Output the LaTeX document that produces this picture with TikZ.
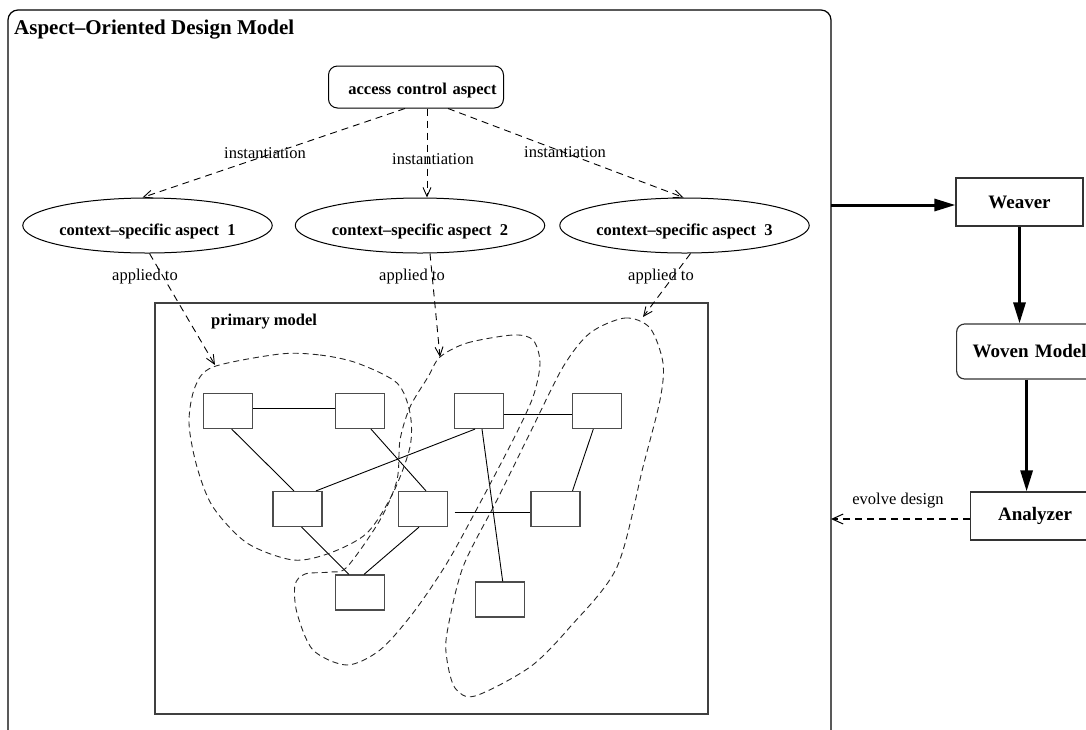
\documentclass[tikz,border=0pt]{standalone}
\usepackage{fontspec}
\setmainfont{Liberation Serif}
\usetikzlibrary{arrows.meta,shapes.geometric,calc}

\tikzset{
  lbl/.style={font=\fontsize{16.5pt}{19pt}\selectfont, inner sep=0pt},
  blbl/.style={font=\fontsize{16.5pt}{19pt}\selectfont\bfseries, inner sep=0pt},
  title/.style={font=\fontsize{21pt}{24pt}\selectfont\bfseries, inner sep=0pt, anchor=west},
  aspect/.style={draw, ellipse, line width=1pt, minimum width=238pt, minimum height=55pt,
    inner sep=0pt, text height=19pt, text depth=0pt, font=\fontsize{16.5pt}{19pt}\selectfont\bfseries},
  elem/.style={draw=black!70, line width=1.2pt, minimum width=49pt, minimum height=35pt, inner sep=0pt},
  tool/.style={draw=black!80, line width=1.2pt, inner sep=0pt, font=\fontsize{19pt}{22pt}\selectfont\bfseries},
  link/.style={line width=0.9pt},
  dep/.style={dashed, dash pattern=on 7pt off 5pt, line width=0.9pt,
    -{Straight Barb[length=9pt,width=8pt,line width=0.9pt]}},
  region/.style={dash pattern=on 6pt off 4pt, line width=0.9pt, black!85},
  flow/.style={line width=3pt, -{Triangle[length=21pt,width=12pt]}},
}

\begin{document}
\begin{tikzpicture}[x=1pt,y=-1pt]
\path[use as bounding box] (0,0) rectangle (1086,729);
\begin{scope}
\clip (0,0) rectangle (1086,729);

% design model frame
\draw[line width=1.2pt, rounded corners=10pt] (8,10) rectangle (831,780);
\node[title] (ttl) at (14,30) {Aspect–Oriented Design Model};

% access control aspect and its instantiations
\node[draw, line width=1pt, rounded corners=9pt, minimum width=175pt, minimum height=42pt,
      inner xsep=7pt, text width=161pt, align=right, text height=14.6pt, text depth=0pt, blbl]
      (acc) at (416,87) {access control aspect};

\node[aspect] (e1) at (147.5,225.5) {context–specific aspect~~1};
\node[aspect] (e2) at (420,225.5) {context–specific aspect~~2};
\node[aspect] (e3) at (684.5,225.5) {context–specific aspect~~3};

\draw[dep] ([xshift=-11pt]acc.south) -- ([xshift=-5pt]e1.north);
\draw[dep] ([xshift=11pt]acc.south) -- ([xshift=7pt]e2.north);
\draw[dep] ([xshift=32pt]acc.south) -- ([xshift=-1pt]e3.north);
\node[lbl] (i1) at (265,153) {instantiation};
\node[lbl] (i2) at (433,159) {instantiation};
\node[lbl] (i3) at (565,152) {instantiation};

% primary model
\draw[draw=black!75, line width=1.2pt] (155,303) rectangle (708,714);
\node[blbl, anchor=west] (pm) at (211,322) {primary model};

\node[elem] (A) at (228,411) {};
\node[elem] (B) at (360,411) {};
\node[elem] (C) at (479,411) {};
\node[elem] (D) at (597,411) {};
\node[elem] (E) at (297.5,509) {};
\node[elem] (F) at (423,509) {};
\node[elem] (G) at (555.5,509) {};
\node[elem] (H) at (360,592.5) {};
\node[elem] (I) at (500,599.5) {};

\draw[link] ([yshift=3pt]A.east) -- ([yshift=3pt]B.west);
\draw[link] ([yshift=-3.7pt]C.east) -- ([yshift=-3.7pt]D.west);
\draw[link] ([xshift=6.5pt,yshift=-3.3pt]F.east) -- ([yshift=-3.3pt]G.west);
\draw[link] ([xshift=3.7pt]A.south) -- ([xshift=-3.5pt]E.north);
\draw[link] ([xshift=11pt]B.south) -- ([xshift=3pt]F.north);
\draw[link] ([xshift=-4pt]C.south) -- ([xshift=18.5pt]E.north);
\draw[link] ([xshift=3pt]C.south) -- ([xshift=2.7pt]I.north);
\draw[link] ([xshift=-3.7pt]D.south) -- ([xshift=17pt]G.north);
\draw[link] ([xshift=4pt]E.south) -- ([xshift=-11pt]H.north);
\draw[link] ([xshift=-4pt]F.south) -- ([xshift=4pt]H.north);

% join-point regions
\draw[region] plot[smooth cycle] coordinates {(280,354) (320,355) (357,363) (397,383) (410,413)
  (410,447) (393,493) (367,533) (330,553) (293,560) (247,543) (213,507) (197,467) (189,423)
  (195,387) (213,367)};
\draw[region] plot[smooth cycle] coordinates {(440,357) (467,343) (513,335) (533,340) (540,363)
  (533,397) (513,440) (480,503) (447,563) (413,613) (380,650) (347,665) (313,650) (297,613)
  (295,585) (305,574) (330,572) (347,567) (380,520) (397,480) (400,440) (410,407) (428,377)};
\draw[region] plot[smooth cycle] coordinates {(590,333) (625,318) (650,328) (663,363) (660,400)
  (643,467) (617,567) (570,627) (530,667) (475,696) (455,688) (447,660) (447,633) (463,567)
  (497,500) (530,433) (563,367)};

\coordinate (r1) at (215,365);
\coordinate (r2) at (440,357);
\coordinate (r3) at (643,317);
\draw[dep] ([xshift=2pt]e1.south) -- (r1);
\draw[dep] ([xshift=10pt]e2.south) -- (r2);
\draw[dep] ([xshift=6pt]e3.south) -- (r3);
\node[lbl] (a1) at (145,277) {applied to};
\node[lbl] (a2) at (412,277) {applied to};
\node[lbl] (a3) at (661,277) {applied to};

% weaving tool chain
\coordinate (out) at (831,205);
\node[tool, minimum width=127pt, minimum height=48pt] (wv) at (1019.5,202) {Weaver};
\node[tool, rounded corners=8pt, minimum width=150pt, minimum height=55pt, anchor=west,
      inner xsep=16pt, text width=118pt, align=left] (wm) at (956,351.5) {Woven Model};
\node[tool, minimum width=140pt, minimum height=48pt, anchor=west] (an) at (970,516) {\hspace*{-11pt}Analyzer};

\draw[flow] (out) -- (wv.west |- out);
\draw[flow] (wv.south) -- (wv.south |- wm.north);
\draw[flow] ([xshift=-5pt]wm.south) -- ([xshift=-5pt]wm.south |- an.north);

\coordinate (back) at (831,519);
\draw[dep, -{Straight Barb[length=11pt,width=10pt,line width=1pt]}, line width=1.1pt]
  (an.west |- back) -- (back);
\node[lbl] (ev) at (898,501) {evolve design};
\end{scope}
\end{tikzpicture}
\end{document}
